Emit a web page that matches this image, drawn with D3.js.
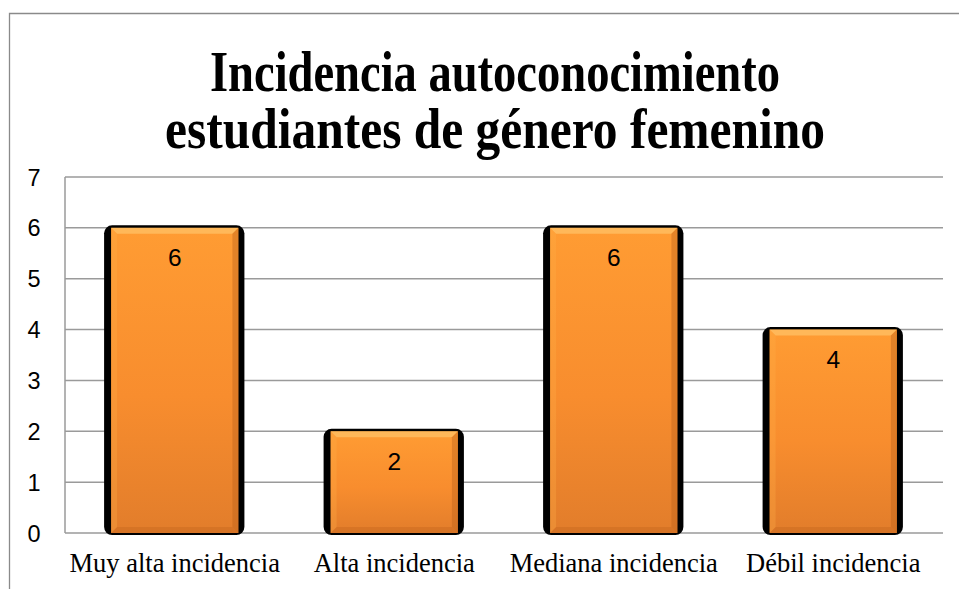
<!DOCTYPE html>
<html>
<head>
<meta charset="utf-8">
<script src="https://cdn.jsdelivr.net/npm/d3@7"></script>
<style>
  html, body { margin: 0; padding: 0; background: #fff; }
  svg { display: block; }
</style>
</head>
<body>
<svg id="chart"></svg>
<script>
// Data
const categories = ["Muy alta incidencia", "Alta incidencia", "Mediana incidencia", "Débil incidencia"];
const values = [6, 2, 6, 4];
const yTicks = [0, 1, 2, 3, 4, 5, 6, 7];
const titleLines = ["Incidencia autoconocimiento", "estudiantes de género femenino"];

const W = 959, H = 589;
const svg = d3.select("#chart").attr("width", W).attr("height", H);

// gradients
const defs = svg.append("defs");
const grad = defs.append("linearGradient")
    .attr("id", "barFill").attr("x1", 0).attr("y1", 0).attr("x2", 0).attr("y2", 1);
grad.append("stop").attr("offset", "0%").attr("stop-color", "#FF9C33");
grad.append("stop").attr("offset", "55%").attr("stop-color", "#F88D2E");
grad.append("stop").attr("offset", "100%").attr("stop-color", "#E27D2B");

// outer frame
svg.append("path")
    .attr("d", `M9.5,${H} V13.5 H${W}`)
    .attr("fill", "none")
    .attr("stroke", "#8a8a8a")
    .attr("stroke-width", 1.3);

// title
const titleX = 495;
const titleW = [570, 660];
titleLines.forEach((t, i) => {
    svg.append("text")
        .attr("x", titleX)
        .attr("y", 91 + i * 57)
        .attr("text-anchor", "middle")
        .attr("font-family", "'Liberation Serif', 'Times New Roman', serif")
        .attr("font-weight", "bold")
        .attr("font-size", 56)
        .attr("textLength", titleW[i])
        .attr("lengthAdjust", "spacingAndGlyphs")
        .attr("fill", "#000")
        .text(t);
});

const plot = { left: 65, right: 943, top: 177, bottom: 533 };

const x = d3.scaleBand()
    .domain(categories)
    .range([plot.left, plot.right])
    .paddingInner(0.42)
    .paddingOuter(0.21);

const y = d3.scaleLinear()
    .domain([0, 7])
    .range([plot.bottom, plot.top]);

// gridlines
svg.append("g")
    .selectAll("line")
    .data(yTicks)
    .join("line")
    .attr("x1", plot.left)
    .attr("x2", plot.right)
    .attr("y1", d => y(d))
    .attr("y2", d => y(d))
    .attr("stroke", "#9a9a9a")
    .attr("stroke-width", 1.5);

// left plot border
svg.append("line")
    .attr("x1", plot.left).attr("x2", plot.left)
    .attr("y1", y(7)).attr("y2", y(0))
    .attr("stroke", "#9a9a9a")
    .attr("stroke-width", 1.5);

// y tick labels
svg.append("g")
    .selectAll("text")
    .data(yTicks)
    .join("text")
    .attr("x", 34)
    .attr("y", d => y(d) + 8.5)
    .attr("text-anchor", "middle")
    .attr("font-family", "'Liberation Sans', Arial, sans-serif")
    .attr("font-size", 23.5)
    .attr("fill", "#000")
    .text(d => d);

// bars
const bars = svg.append("g");
const bevel = 6;
categories.forEach((c, i) => {
    const bx = x(c), bw = x.bandwidth();
    const by = y(values[i]), bh = y(0) - y(values[i]);

    // black shadow behind
    bars.append("rect")
        .attr("x", bx - 7)
        .attr("y", by - 2.5)
        .attr("width", bw + 13)
        .attr("height", bh + 4.5)
        .attr("rx", 8)
        .attr("fill", "#000");

    bars.append("rect")
        .attr("x", bx)
        .attr("y", by)
        .attr("width", bw)
        .attr("height", bh)
        .attr("fill", "url(#barFill)");

    // bevel edges
    const x0 = bx, x1 = bx + bw, y0 = by, y1 = by + bh, b = bevel;
    bars.append("polygon")
        .attr("points", `${x0},${y0} ${x1},${y0} ${x1 - b},${y0 + b} ${x0 + b},${y0 + b}`)
        .attr("fill", "#FFC56A").attr("opacity", 0.7);
    bars.append("polygon")
        .attr("points", `${x0},${y0} ${x0 + b},${y0 + b} ${x0 + b},${y1 - b} ${x0},${y1}`)
        .attr("fill", "#FFB04A").attr("opacity", 0.3);
    bars.append("polygon")
        .attr("points", `${x1},${y0} ${x1 - b},${y0 + b} ${x1 - b},${y1 - b} ${x1},${y1}`)
        .attr("fill", "#B85E18").attr("opacity", 0.4);
    bars.append("polygon")
        .attr("points", `${x0},${y1} ${x0 + b},${y1 - b} ${x1 - b},${y1 - b} ${x1},${y1}`)
        .attr("fill", "#B85E18").attr("opacity", 0.3);

    // value label
    bars.append("text")
        .attr("x", bx + bw / 2)
        .attr("y", by + 38.5)
        .attr("text-anchor", "middle")
        .attr("font-family", "'Liberation Sans', Arial, sans-serif")
        .attr("font-size", 24.5)
        .attr("fill", "#000")
        .text(values[i]);
});

// x category labels
svg.append("g")
    .selectAll("text")
    .data(categories)
    .join("text")
    .attr("x", d => x(d) + x.bandwidth() / 2)
    .attr("y", 572)
    .attr("text-anchor", "middle")
    .attr("font-family", "'Liberation Serif', 'Times New Roman', serif")
    .attr("font-size", 26.5)
    .attr("fill", "#000")
    .text(d => d);
</script>
</body>
</html>
